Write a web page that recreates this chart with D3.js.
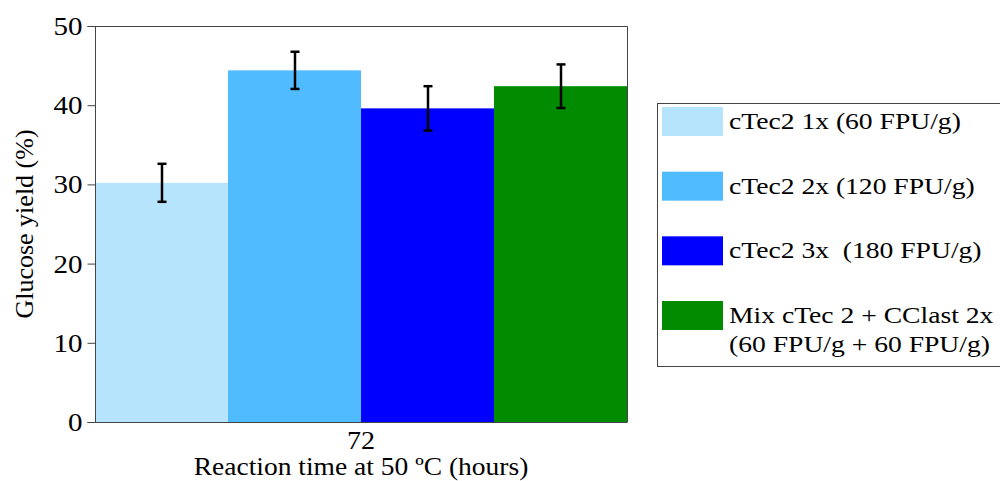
<!DOCTYPE html>
<html>
<head>
<meta charset="utf-8">
<script src="https://cdn.jsdelivr.net/npm/d3@7"></script>
<style>
  html, body { margin: 0; padding: 0; background: #fff; }
  svg { display: block; }
</style>
</head>
<body>
<svg id="chart" width="1000" height="481"></svg>
<script>
// ---- data ----
const categories = ["72"];
const seriesNames = [
  "cTec2 1x (60 FPU/g)",
  "cTec2 2x (120 FPU/g)",
  "cTec2 3x  (180 FPU/g)",
  "Mix cTec 2 + CClast 2x|(60 FPU/g + 60 FPU/g)"
];
const glucoseYield = [30.2, 44.4, 39.6, 42.4];
const yieldError = [2.4, 2.35, 2.8, 2.75];
const yTicks = [0, 10, 20, 30, 40, 50];
const seriesColors = ["#B7E4FD", "#50BCFF", "#0000FF", "#008B00"];
const yLabel = "Glucose yield (%)";
const xLabel = "Reaction time at 50 ºC (hours)";

// ---- layout ----
const FONT = '"Liberation Serif", "Times New Roman", Times, serif';
const svg = d3.select("#chart");
const plot = { left: 95, right: 627, top: 26, bottom: 422 };

function stretch(sel, f) {
  sel.each(function () {
    const w = this.getComputedTextLength();
    d3.select(this).attr("textLength", w * f).attr("lengthAdjust", "spacingAndGlyphs");
  });
}

const x0 = d3.scaleBand().domain(categories).range([plot.left, plot.right]).padding(0);
const x1 = d3.scaleBand().domain(seriesNames).range([0, x0.bandwidth()]).padding(0);
const y = d3.scaleLinear().domain([0, 50]).range([plot.bottom, plot.top]);

const rows = seriesNames.map((s, i) => ({ name: s, v: glucoseYield[i], e: yieldError[i], c: seriesColors[i] }));

// bars
const g = svg.append("g");
categories.forEach(cat => {
  const cg = g.append("g").attr("transform", `translate(${x0(cat)},0)`);
  cg.selectAll("rect").data(rows).join("rect")
    .attr("x", d => x1(d.name))
    .attr("width", x1.bandwidth())
    .attr("y", d => y(d.v))
    .attr("height", d => y(0) - y(d.v))
    .attr("fill", d => d.c);

  // error bars
  const eb = cg.selectAll("g.err").data(rows).join("g").attr("class", "err");
  const cx = d => Math.round(x1(d.name) + x1.bandwidth() / 2);
  eb.append("line")
    .attr("x1", cx).attr("x2", cx)
    .attr("y1", d => y(d.v + d.e)).attr("y2", d => y(d.v - d.e))
    .attr("stroke", "#000").attr("stroke-width", 2.5);
  [1, -1].forEach(s => {
    eb.append("line")
      .attr("x1", d => cx(d) - 4.5).attr("x2", d => cx(d) + 4.5)
      .attr("y1", d => y(d.v + s * d.e)).attr("y2", d => y(d.v + s * d.e))
      .attr("stroke", "#000").attr("stroke-width", 2.5);
  });
});

// frame (top & right)
svg.append("path")
  .attr("d", `M${plot.left},${plot.top + 0.5}H${plot.right + 0.5}V${plot.bottom}`)
  .attr("fill", "none").attr("stroke", "#444").attr("stroke-width", 1);

// y axis
const yAxis = d3.axisLeft(y).tickValues(yTicks).tickSize(8).tickPadding(5).tickFormat(d3.format("d"));
const yg = svg.append("g").attr("transform", `translate(${plot.left + 0.5},0)`).call(yAxis);
yg.select(".domain").attr("stroke", "#444").attr("d", `M-8,${plot.top + 0.5}H0V${plot.bottom + 0.5}H-8`);
yg.selectAll(".tick line").attr("stroke", "#444");
yg.selectAll(".tick text")
  .style("font-family", FONT)
  .style("font-size", "25px")
  .attr("fill", "#000")
  .attr("dy", "0.34em");
stretch(yg.selectAll(".tick text"), 1.16);

// x axis
const xAxis = d3.axisBottom(x0).tickSize(0).tickPadding(8);
const xg = svg.append("g").attr("transform", `translate(0,${plot.bottom + 0.5})`).call(xAxis);
xg.select(".domain").attr("stroke", "#444").attr("d", `M${plot.left},0H${plot.right + 0.5}`);
xg.selectAll(".tick text")
  .style("font-family", FONT)
  .style("font-size", "26px")
  .attr("fill", "#000");
stretch(xg.selectAll(".tick text"), 1.08);

// axis titles
svg.append("text")
  .attr("transform", `translate(33,${(plot.top + plot.bottom) / 2}) rotate(-90)`)
  .attr("text-anchor", "middle")
  .style("font-family", FONT)
  .style("font-size", "26px")
  .text(yLabel);

const xt = svg.append("text")
  .attr("x", (plot.left + plot.right) / 2)
  .attr("y", 475)
  .attr("text-anchor", "middle")
  .style("font-family", FONT)
  .style("font-size", "25px")
  .text(xLabel);
stretch(xt, 1.1);

// legend
const leg = svg.append("g");
leg.append("rect")
  .attr("x", 657.5).attr("y", 103.5).attr("width", 360).attr("height", 263)
  .attr("fill", "#fff").attr("stroke", "#444").attr("stroke-width", 1);
const legY = d3.scalePoint().domain(seriesNames).range([107, 301]);
const items = leg.selectAll("g.item").data(rows).join("g").attr("class", "item")
  .attr("transform", d => `translate(662,${legY(d.name)})`);
items.append("rect").attr("width", 61).attr("height", 29).attr("fill", d => d.c);
items.each(function (d) {
  const lines = d.name.split("|");
  const t = d3.select(this).selectAll("text").data(lines).join("text")
    .attr("x", 67)
    .attr("y", (l, i) => 22 + i * 29)
    .style("font-family", FONT)
    .style("font-size", "24px")
    .style("white-space", "pre")
    .text(l => l);
  stretch(t, 1.15);
});
</script>
</body>
</html>
